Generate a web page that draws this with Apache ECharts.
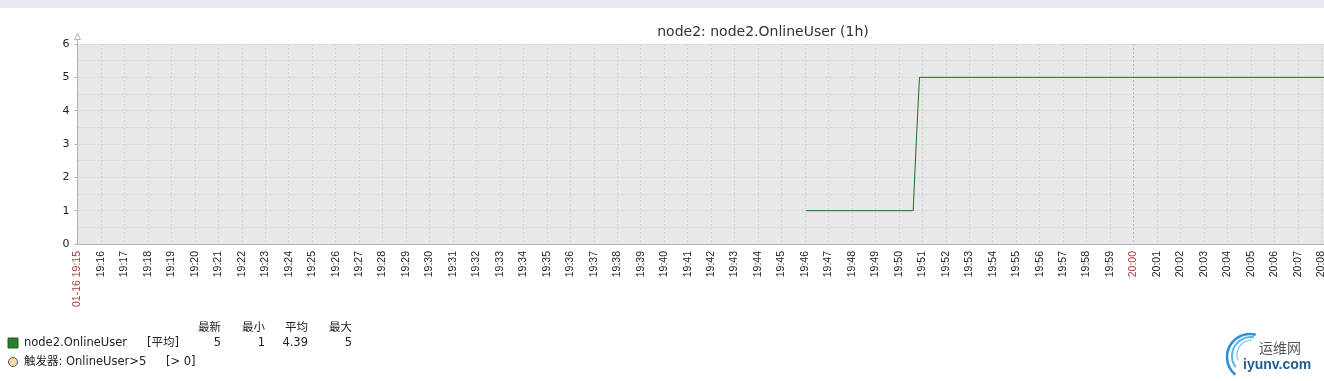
<!DOCTYPE html>
<html><head><meta charset="utf-8">
<script src="https://cdn.jsdelivr.net/npm/echarts@6/dist/echarts.min.js"></script>
<style>html,body{margin:0;padding:0;background:#fff;}#c{width:1324px;height:381px;}</style>
</head><body><div id="c"></div>
<script>
var title = 'node2: node2.OnlineUser (1h)';
var xLabels = ['01-16 19:15','19:16','19:17','19:18','19:19','19:20','19:21','19:22','19:23','19:24','19:25','19:26','19:27','19:28','19:29','19:30','19:31','19:32','19:33','19:34','19:35','19:36','19:37','19:38','19:39','19:40','19:41','19:42','19:43','19:44','19:45','19:46','19:47','19:48','19:49','19:50','19:51','19:52','19:53','19:54','19:55','19:56','19:57','19:58','19:59','20:00','20:01','20:02','20:03','20:04','20:05','20:06','20:07','20:08','20:09','20:10','20:11','20:12','20:13','20:14','20:15'];
var markedLabels = ['01-16 19:15','20:00'];
var yTicks = [0,1,2,3,4,5,6];
var seriesName = 'node2.OnlineUser';
var seriesMinutes = [31.05, 35.61, 35.74, 35.78, 35.88, 60];
var seriesValues  = [1, 1, 3, 3, 5, 5];
var statHeaders = ['最新','最小','平均','最大'];
var statValues  = ['5','1','4.39','5'];
var triggerText = '触发器: OnlineUser>5';
var triggerValue = '[> 0]';

var data = seriesMinutes.map(function(m,i){return [m, seriesValues[i]];});
var gridColors = xLabels.map(function(l){return markedLabels.indexOf(l)>=0 ? '#b8b8b8' : '#d2d2d2';});
var lf = 'DejaVu Sans, Noto Sans CJK SC, sans-serif';
var statX = [221, 265, 308, 352];

var graphics = [
  {type:'rect', shape:{x:0,y:0,width:1324,height:8}, style:{fill:'#e7eaee'}},
  {type:'line', shape:{x1:77.5,y1:39,x2:77.5,y2:44}, style:{stroke:'#a9b3bd',lineWidth:1}},
  {type:'polygon', shape:{points:[[74.5,39.5],[77.5,33.5],[80.5,39.5]]}, style:{fill:'#fff',stroke:'#a9b3bd',lineWidth:1}},
  {type:'rect', shape:{x:8,y:338,width:10,height:10}, style:{fill:'#2e7d2e',stroke:'#1f5f1f',lineWidth:1}},
  {type:'text', x:24, y:343, style:{text:seriesName, font:'11.5px '+lf, fill:'#222', verticalAlign:'middle'}},
  {type:'text', x:147, y:343, style:{text:'[平均]', font:'11.5px '+lf, fill:'#222', verticalAlign:'middle'}},
  {type:'circle', shape:{cx:13,cy:362,r:4.5}, style:{fill:'#f5d9a0',stroke:'#555',lineWidth:1}},
  {type:'text', x:24, y:362, style:{text:triggerText, font:'11.5px '+lf, fill:'#222', verticalAlign:'middle'}},
  {type:'text', x:166, y:362, style:{text:triggerValue, font:'11.5px '+lf, fill:'#222', verticalAlign:'middle'}},
  {type:'arc', shape:{cx:1250,cy:357,r:23,startAngle:Math.PI*0.72,endAngle:Math.PI*1.58}, style:{stroke:'#2a8fd6',lineWidth:2.5,fill:null}},
  {type:'arc', shape:{cx:1251,cy:356,r:19,startAngle:Math.PI*0.8,endAngle:Math.PI*1.55}, style:{stroke:'#5db3ea',lineWidth:2,fill:null}},
  {type:'arc', shape:{cx:1252,cy:355,r:15,startAngle:Math.PI*0.88,endAngle:Math.PI*1.5}, style:{stroke:'#9ad0f3',lineWidth:1.5,fill:null}},
  {type:'text', x:1259, y:348, style:{text:'运维网', font:'14px Noto Sans CJK SC', fill:'#555', verticalAlign:'middle'}},
  {type:'text', x:1243, y:365, style:{text:'iyunv.com', font:'bold 14px Liberation Sans', fill:'#1f5d98', verticalAlign:'middle'}}
];
statHeaders.forEach(function(h,i){
  graphics.push({type:'text', x:statX[i], y:328, style:{text:h, font:'11.5px '+lf, fill:'#222', align:'right', verticalAlign:'middle'}});
  graphics.push({type:'text', x:statX[i], y:343, style:{text:statValues[i], font:'11.5px '+lf, fill:'#222', align:'right', verticalAlign:'middle'}});
});

var chart = echarts.init(document.getElementById('c'), null, {renderer:'canvas'});
chart.setOption({
  animation:false,
  backgroundColor:'#fff',
  title:{text:title, left:758, top:27, textAlign:'center', textVerticalAlign:'middle',
    textStyle:{fontFamily:'DejaVu Sans', fontSize:14, fontWeight:'normal', color:'#333'}},
  grid:{left:77.5, top:44, width:1408, height:200, show:true, backgroundColor:'#e8e8e8', borderWidth:0,
    containLabel:false, outerBoundsMode:'none'},
  xAxis:{type:'value', min:0, max:xLabels.length-1, interval:1,
    axisLine:{show:true, lineStyle:{color:'#a9b3bd', width:1}},
    axisTick:{show:false},
    axisLabel:{rotate:90, margin:7, fontFamily:'Liberation Sans', fontSize:10.5,
      formatter:function(v){return xLabels[Math.round(v)];},
      color:function(v){return markedLabels.indexOf(xLabels[Math.round(v)])>=0 ? '#aa3a3a' : '#222';}},
    splitLine:{show:true, lineStyle:{color:gridColors, type:[2,2], width:1}}
  },
  yAxis:{type:'value', min:yTicks[0], max:yTicks[yTicks.length-1], interval:1,
    axisLine:{show:true, lineStyle:{color:'#a9b3bd', width:1}},
    axisTick:{show:true, length:3, lineStyle:{color:'#a9b3bd'}},
    axisLabel:{margin:8, fontFamily:'DejaVu Sans', fontSize:11, color:'#222'},
    splitLine:{show:true, lineStyle:{color:'#d2d2d2', type:[2,2], width:1}},
    minorTick:{show:false, splitNumber:2},
    minorSplitLine:{show:true, lineStyle:{color:'#d2d2d2', type:[2,2], width:1}}
  },
  series:[{type:'line', name:seriesName, data:data, showSymbol:false, symbol:'none',
    lineStyle:{color:'#1e6e1e', width:1}, clip:true}],
  graphic:graphics
});
</script></body></html>
